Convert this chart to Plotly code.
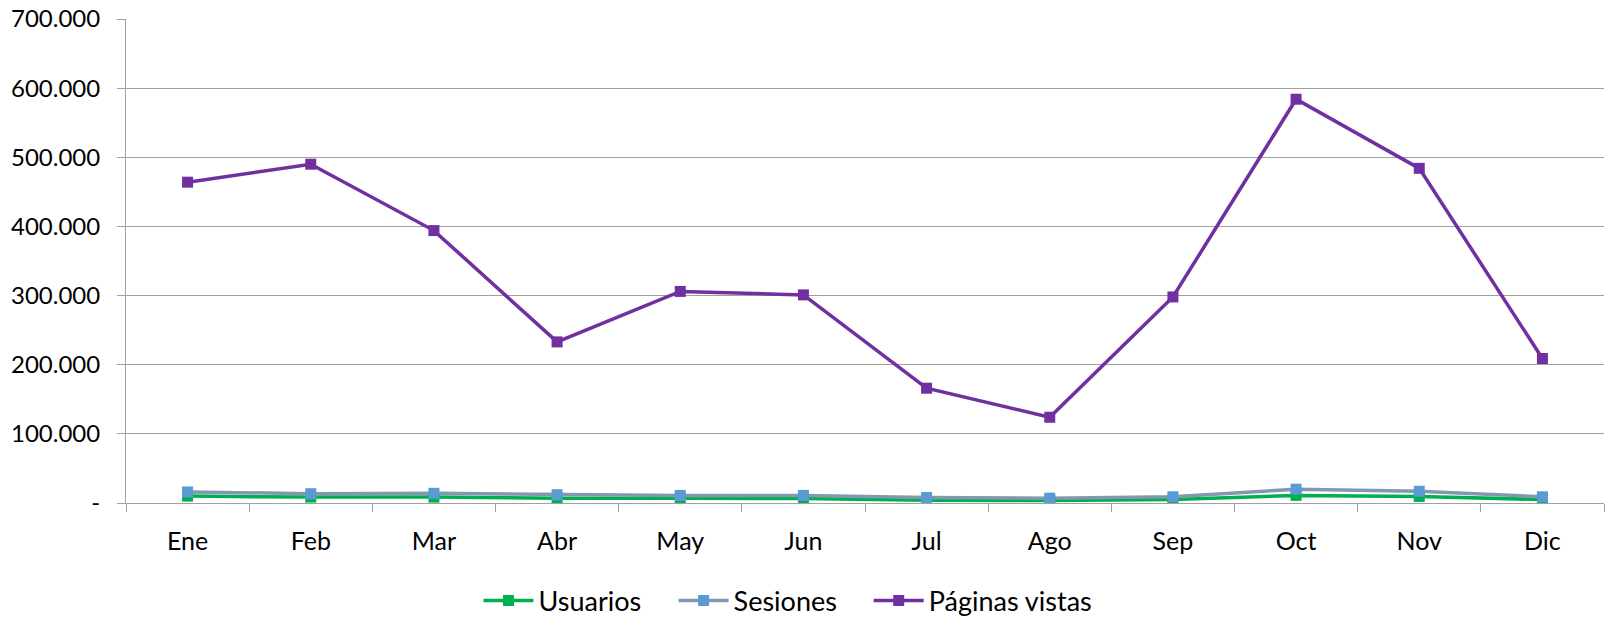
import plotly.graph_objects as go

months = ["Ene", "Feb", "Mar", "Abr", "May", "Jun", "Jul", "Ago", "Sep", "Oct", "Nov", "Dic"]
usuarios = [10000, 8500, 8500, 7000, 7000, 6500, 4000, 3500, 5000, 11000, 9500, 5000]
sesiones = [16000, 13500, 14000, 12000, 11000, 11000, 8000, 7000, 9000, 20000, 17000, 9000]
paginas = [464000, 490000, 394000, 233000, 306000, 301000, 166000, 124000, 298000, 584000, 484000, 209000]

y_tickvals = [0, 100000, 200000, 300000, 400000, 500000, 600000, 700000]
y_ticktext = ["-", "100.000", "200.000", "300.000", "400.000", "500.000", "600.000", "700.000"]

FONT = "Lato, 'Open Sans', sans-serif"

fig = go.Figure()
fig.add_trace(go.Scatter(
    x=months, y=usuarios, name="Usuarios", mode="lines+markers",
    line=dict(color="#00B050", width=3.5),
    marker=dict(symbol="square", size=11, color="#00B050"),
    legend="legend",
))
fig.add_trace(go.Scatter(
    x=months, y=sesiones, name="Sesiones", mode="lines+markers",
    line=dict(color="#8497B0", width=3.5),
    marker=dict(symbol="square", size=11, color="#5B9BD5"),
    legend="legend2",
))
fig.add_trace(go.Scatter(
    x=months, y=paginas, name="Páginas vistas", mode="lines+markers",
    line=dict(color="#7030A0", width=3.5),
    marker=dict(symbol="square", size=11, color="#7030A0"),
    legend="legend3",
))

def leg(x):
    return dict(orientation="h", x=x, xanchor="left", y=-0.152, yanchor="top",
                font=dict(family=FONT, size=27), itemwidth=50,
                bgcolor="rgba(0,0,0,0)")

fig.update_layout(
    width=1617, height=622,
    margin=dict(l=126, r=13, t=19, b=119, autoexpand=False),
    plot_bgcolor="white", paper_bgcolor="white",
    font=dict(family=FONT, size=24, color="#000000"),
    showlegend=True,
    legend=leg(0.2385),
    legend2=leg(0.3705),
    legend3=leg(0.5025),
    xaxis=dict(
        type="category", showgrid=False, showline=True, linecolor="#A0A0A0", linewidth=1,
        ticks="outside", ticklen=8, tickcolor="#A0A0A0", tickson="boundaries",
        tickfont=dict(family=FONT, size=25), range=[-0.5, 11.5], automargin=False,
        ticklabelstandoff=16, ticklabeloverflow="allow",
    ),
    yaxis=dict(
        range=[0, 700000], tickvals=y_tickvals, ticktext=y_ticktext,
        showgrid=True, gridcolor="#A0A0A0", gridwidth=1,
        showline=True, linecolor="#A0A0A0", linewidth=1,
        ticks="outside", ticklen=8, tickcolor="#A0A0A0",
        tickfont=dict(family=FONT, size=24), zeroline=False, automargin=False,
        ticklabelstandoff=12, ticklabeloverflow="allow",
    ),
)

fig.write_html("out.html", post_script="document.body.style.margin='0';",
               config={"displayModeBar": False})
